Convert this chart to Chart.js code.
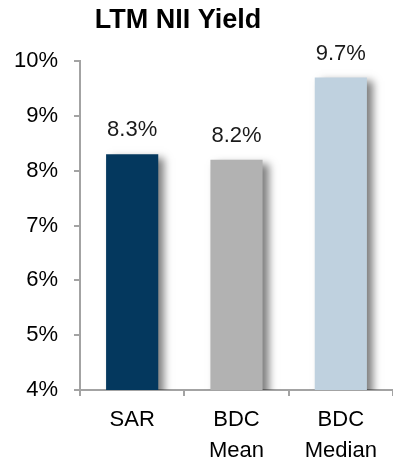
<!DOCTYPE html>
<html>
<head>
<meta charset="utf-8">
<script src="https://cdn.jsdelivr.net/npm/chart.js@4.4.1/dist/chart.umd.min.js"></script>
<style>
  html, body { margin: 0; padding: 0; background: #fff; }
  #wrap { width: 393px; height: 458px; position: relative; }
</style>
</head>
<body>
<div id="wrap"><canvas id="nii"></canvas></div>
<script>
const categories = [["SAR"], ["BDC", "Mean"], ["BDC", "Median"]];
const yieldValues = [8.3, 8.2, 9.7];
const barColors = ["#04385E", "#B2B2B2", "#BFD1DF"];
const yTicks = [4, 5, 6, 7, 8, 9, 10];
const chartTitle = "LTM NII Yield";

const FONT = "Arial, 'Liberation Sans', sans-serif";
const AXIS_GREY = "#A3A3A3";

// soft drop shadow behind the bars
const barShadow = {
  id: "barShadow",
  beforeDatasetsDraw(chart) {
    const ctx = chart.ctx;
    ctx.save();
    ctx.shadowColor = "rgba(0,0,0,0.5)";
    ctx.shadowBlur = 8;
    ctx.shadowOffsetX = 6;
    ctx.shadowOffsetY = 4;
  },
  afterDatasetsDraw(chart) {
    chart.ctx.restore();
  }
};

// value labels above each bar + the title
const labelsAndTitle = {
  id: "labelsAndTitle",
  afterDraw(chart) {
    const ctx = chart.ctx;
    ctx.save();
    ctx.textAlign = "center";
    ctx.textBaseline = "middle";
    ctx.fillStyle = "#1A1A1A";
    ctx.font = "22px " + FONT;
    chart.getDatasetMeta(0).data.forEach((bar, i) => {
      ctx.fillText(yieldValues[i].toFixed(1) + "%", bar.x, bar.y - 24);
    });
    ctx.fillStyle = "#000";
    ctx.font = "bold 27px " + FONT;
    ctx.fillText(chartTitle, 178, 21);
    ctx.restore();
  }
};

new Chart(document.getElementById("nii"), {
  type: "bar",
  data: {
    labels: categories,
    datasets: [{
      data: yieldValues,
      backgroundColor: barColors,
      borderWidth: 0,
      categoryPercentage: 1,
      barPercentage: 0.5
    }]
  },
  options: {
    responsive: true,
    maintainAspectRatio: false,
    animation: false,
    layout: { padding: { top: 61, right: 0, left: 0, bottom: 0 } },
    plugins: {
      legend: { display: false },
      tooltip: { enabled: false },
      title: { display: false }
    },
    scales: {
      x: {
        grid: {
          offset: true,
          drawOnChartArea: false,
          drawTicks: true,
          tickLength: 6,
          color: AXIS_GREY,
          lineWidth: 2
        },
        border: { display: true, color: AXIS_GREY, width: 2 },
        ticks: {
          color: "#000",
          padding: 9,
          font: { family: FONT, size: 22, lineHeight: 1.38 }
        },
        afterFit(scale) { scale.height = 68; }
      },
      y: {
        min: 4,
        max: 10,
        afterBuildTicks(scale) {
          scale.ticks = yTicks.map(v => ({ value: v }));
        },
        grid: {
          drawOnChartArea: false,
          drawTicks: true,
          tickLength: 6,
          color: AXIS_GREY,
          lineWidth: 2
        },
        border: { display: true, color: AXIS_GREY, width: 2 },
        ticks: {
          color: "#000",
          padding: 16,
          font: { family: FONT, size: 22 },
          callback: v => v + "%"
        },
        afterFit(scale) { scale.width = 80; }
      }
    }
  },
  plugins: [barShadow, labelsAndTitle]
});
</script>
</body>
</html>
